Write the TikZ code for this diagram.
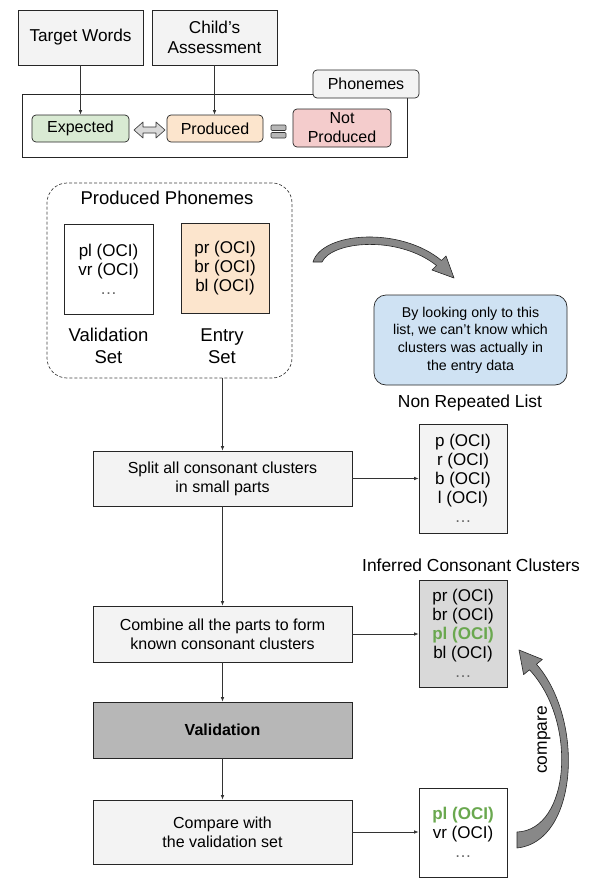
\documentclass[tikz,border=0pt]{standalone}
\usepackage{fontspec}
\setmainfont{Liberation Sans}
\usetikzlibrary{arrows.meta}
\definecolor{boxgrey}{HTML}{F3F3F3}
\definecolor{midgrey}{HTML}{D9D9D9}
\definecolor{darkgrey}{HTML}{B7B7B7}
\definecolor{expgreen}{HTML}{D9EAD3}
\definecolor{prodorange}{HTML}{FCE5CD}
\definecolor{notred}{HTML}{F4CCCC}
\definecolor{noteblue}{HTML}{CFE2F3}
\definecolor{okgreen}{HTML}{6AA84F}
\definecolor{blockgrey}{HTML}{888888}
\begin{document}
\begin{tikzpicture}[x=1pt,y=-1pt,
  base/.style={draw=black!85, line width=0.7pt, align=center, inner sep=0pt,
    font=\fontsize{16}{19}\selectfont},
  greybox/.style={base, fill=boxgrey},
  sourcebox/.style={greybox, font=\fontsize{17.2}{20.5}\selectfont},
  pill/.style={base, rounded corners=4pt},
  listbox/.style={base, font=\fontsize{17}{19}\selectfont},
  caption/.style={align=center, inner sep=0pt, font=\fontsize{17.4}{21}\selectfont},
  bigcaption/.style={align=center, inner sep=0pt, font=\fontsize{18.5}{22}\selectfont},
  flow/.style={draw=black!80, line width=0.7pt, -{Latex[length=4.5pt,width=3.5pt]}},
  blockarrow/.style={fill=blockgrey, draw=black!85, line width=0.6pt, line join=round}
]
\useasboundingbox (0,0) rectangle (590,878);

% ---- inputs and phoneme classes ----
\node[sourcebox, minimum width=125pt, minimum height=55pt] (tw) at (80.5,37.5) {Target Words};
\node[sourcebox, minimum width=125pt, minimum height=55pt] (ca) at (214.5,37.5) {Child’s\\Assessment};
\node[base, fill=white, minimum width=385pt, minimum height=63pt] (frame) at (214.5,125.5) {};
\node[pill, fill=boxgrey, minimum width=106pt, minimum height=28pt] (phon) at (366,84) {Phonemes};
\node[pill, fill=expgreen, minimum width=97pt, minimum height=27pt] (exp) at (80.5,128.5) {Expected};
\node[pill, fill=prodorange, minimum width=96pt, minimum height=27pt] (prod) at (215,128.5) {Produced};
\node[pill, fill=notred, minimum width=98pt, minimum height=38pt] (notp) at (342,128) {Not\\Produced};

\draw[flow] (tw.south) -- (exp.north);
\draw[flow] (ca.south) -- (ca.south |- prod.north);

% hollow double arrow between expected and produced
\draw[fill=midgrey, draw=black!80, line width=0.6pt, line join=round]
  (134,130) -- (143,122) -- (143,127) -- (156,127) -- (156,122) -- (165,130)
  -- (156,138) -- (156,133) -- (143,133) -- (143,138) -- cycle;
% "not equal" bars between produced and not produced
\draw[fill=darkgrey, draw=black!80, line width=0.6pt, rounded corners=1pt]
  (271,125) rectangle (286,130.5);
\draw[fill=darkgrey, draw=black!80, line width=0.6pt, rounded corners=1pt]
  (271,132.5) rectangle (286,138);

% ---- produced phonemes group ----
\node[draw=black!75, dashed, dash pattern=on 3pt off 2pt, line width=0.7pt, rounded corners=20pt,
  minimum width=245pt, minimum height=195pt] (group) at (169.5,280.5) {};
\node[bigcaption] (grouptitle) at (167,198) {Produced Phonemes};
\node[listbox, fill=white, minimum width=89pt, minimum height=90pt] (valset) at (108.5,269)
  {pl (OCI)\\vr (OCI)\\\textcolor{black!60}{…}};
\node[listbox, fill=prodorange, minimum width=88pt, minimum height=90pt] (entryset) at (225,268)
  {pr (OCI)\\br (OCI)\\bl (OCI)};
\node[bigcaption] (vallabel) at (108.5,346) {Validation\\Set};
\node[bigcaption] (entrylabel) at (222,346) {Entry\\Set};

% ---- note ----
\node[base, fill=noteblue, rounded corners=12pt, minimum width=193pt, minimum height=90pt,
  font=\fontsize{14.2}{17.6}\selectfont] (note) at (470.5,340)
  {By looking only to this\\list, we can’t know which\\clusters was actually in\\the entry data};
\draw[blockarrow]
  (313,262) .. controls (322,232) and (400,226) .. (441.5,260.5) -- (446,256) -- (454,278)
  -- (432,270) -- (436.5,265.5) .. controls (398,235) and (332,241) .. (322,262) -- cycle;

% ---- processing steps ----
\node[greybox, minimum width=259pt, minimum height=55pt] (split) at (222.5,478.5)
  {Split all consonant clusters\\in small parts};
\node[greybox, minimum width=259pt, minimum height=56pt] (combine) at (222.5,634)
  {Combine all the parts to form\\known consonant clusters};
\node[base, fill=darkgrey, minimum width=259pt, minimum height=56pt, font=\fontsize{16}{19}\selectfont\bfseries]
  (valid) at (222.5,730) {Validation};
\node[greybox, minimum width=259pt, minimum height=64pt] (cmp) at (222.5,832)
  {Compare with\\the validation set};

\draw[flow] (group.south -| split.north) -- (split.north);
\draw[flow] (split.south) -- (combine.north);
\draw[flow] (combine.south) -- (valid.north);
\draw[flow] (valid.south) -- (cmp.north);

% ---- lists ----
\node[caption] (nrlabel) at (470,403) {Non Repeated List};
\node[listbox, fill=boxgrey, minimum width=88pt, minimum height=109pt] (nonrep) at (463,478.5)
  {p (OCI)\\r (OCI)\\b (OCI)\\l (OCI)\\\textcolor{black!60}{…}};
\node[caption] (inflabel) at (471,565) {Inferred Consonant Clusters};
\node[listbox, fill=midgrey, minimum width=88pt, minimum height=107pt] (inferred) at (463,633.5)
  {pr (OCI)\\br (OCI)\\\textcolor{okgreen}{\bfseries pl (OCI)}\\bl (OCI)\\\textcolor{black!60}{…}};
\node[listbox, fill=white, minimum width=88pt, minimum height=89pt] (matched) at (463,832.5)
  {\textcolor{okgreen}{\bfseries pl (OCI)}\\vr (OCI)\\\textcolor{black!60}{…}};

\draw[flow] (split.east) -- (split.east -| nonrep.west);
\draw[flow] (combine.east) -- (combine.east -| inferred.west);
\draw[flow] (cmp.east) -- (cmp.east -| matched.west);

% ---- compare arrow ----
\draw[blockarrow]
  (517,848) .. controls (578,842) and (585,720) .. (536.5,664.2) -- (542.4,659.4) -- (519,650)
  -- (523.6,674.6) -- (529.5,669.8) .. controls (578,722) and (570,830) .. (517,832) -- cycle;
\node[caption, rotate=90] (cmplabel) at (544,740) {compare};
\end{tikzpicture}
\end{document}
